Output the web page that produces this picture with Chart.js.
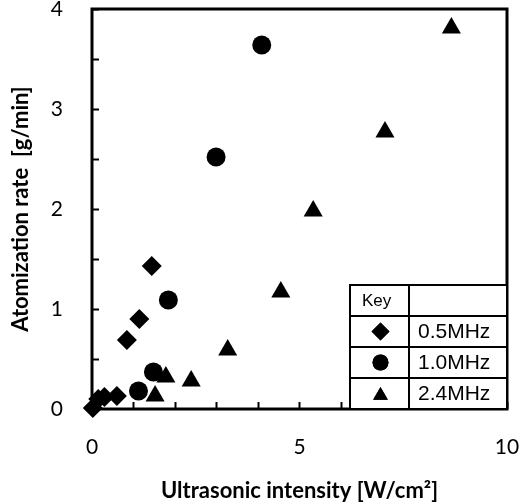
<!DOCTYPE html>
<html>
<head>
<meta charset="utf-8">
<script src="https://cdn.jsdelivr.net/npm/chart.js@4.4.1/dist/chart.umd.min.js"></script>
<style>
  html, body { margin: 0; padding: 0; background: #fff; }
</style>
</head>
<body>
<canvas id="chart" width="526" height="504"></canvas>
<script>
// values
const seriesNames = ['0.5MHz', '1.0MHz', '2.4MHz'];
const markerStyles = ['rectRot', 'circle', 'triangle'];

const x05 = [0.02, 0.15, 0.30, 0.60, 0.84, 1.14, 1.44];
const y05 = [0.01, 0.10, 0.12, 0.13, 0.69, 0.90, 1.43];

const x10 = [1.12, 1.48, 1.84, 2.99, 4.09];
const y10 = [0.18, 0.37, 1.09, 2.52, 3.64];

const x24 = [1.52, 1.78, 2.39, 3.27, 4.55, 5.33, 7.06, 8.66];
const y24 = [0.13, 0.32, 0.28, 0.59, 1.17, 1.98, 2.77, 3.81];

const xTickLabels = [0, 5, 10];
const yTickLabels = [0, 1, 2, 3, 4];

const toPoints = (xs, ys) => xs.map((x, i) => ({ x: x, y: ys[i] }));
const pointSizes = [10, 9.5, 11];

const frame = {
    id: 'frame',
    beforeDatasetsDraw(chart) {
        const { ctx, chartArea: a } = chart;
        ctx.save();
        ctx.strokeStyle = '#000';
        ctx.lineWidth = 3;
        ctx.strokeRect(a.left, a.top, a.right - a.left, a.bottom - a.top);
        ctx.restore();
    }
};

// the "Key" table in the lower right corner
const keyTable = {
    id: 'keyTable',
    afterDatasetsDraw(chart) {
        const { ctx, chartArea: a } = chart;
        const rowH = 31, w = 157, col = 59;
        const right = a.right, bottom = a.bottom;
        const left = right - w, top = bottom - rowH * 4;
        ctx.save();
        ctx.fillStyle = '#fff';
        ctx.fillRect(left, top, w, rowH * 4);
        ctx.strokeStyle = '#000';
        ctx.lineWidth = 2;
        ctx.strokeRect(left, top, w, rowH * 4);
        ctx.beginPath();
        for (let i = 1; i < 4; i++) {
            ctx.moveTo(left, top + rowH * i);
            ctx.lineTo(right, top + rowH * i);
        }
        ctx.moveTo(left + col, top);
        ctx.lineTo(left + col, bottom);
        ctx.stroke();

        ctx.fillStyle = '#000';
        ctx.textBaseline = 'middle';
        ctx.textAlign = 'left';
        ctx.font = '17px "Liberation Sans", Arial, sans-serif';
        ctx.fillText('Key', left + 12, top + rowH / 2 + 1);
        ctx.font = '21px "Liberation Sans", Arial, sans-serif';
        const legendSizes = [9, 8, 8.5];
        seriesNames.forEach((name, i) => {
            const cy = top + rowH * (i + 1.5);
            ctx.fillText(name, left + col + 9, cy + 1);
            Chart.helpers.drawPoint(ctx, {
                pointStyle: markerStyles[i],
                radius: legendSizes[i],
                rotation: 0,
                borderWidth: 0
            }, left + col / 2 + 1, cy + (i === 2 ? 2 : 0));
            ctx.fill();
        });
        ctx.restore();
    }
};

const noPad = s => { s.paddingTop = 0; s.paddingBottom = 0; s.paddingLeft = 0; s.paddingRight = 0; };

const tickFont = { family: 'Lato', size: 21 };
const titleFont = { family: 'Lato', size: 22, weight: 'bold' };

new Chart(document.getElementById('chart'), {
    type: 'scatter',
    data: {
        datasets: [
            { label: seriesNames[0], data: toPoints(x05, y05) },
            { label: seriesNames[1], data: toPoints(x10, y10) },
            { label: seriesNames[2], data: toPoints(x24, y24) }
        ].map((ds, i) => ({
            ...ds,
            pointStyle: markerStyles[i],
            pointRadius: pointSizes[i],
            pointHoverRadius: pointSizes[i],
            backgroundColor: '#000',
            borderColor: '#000',
            borderWidth: 0,
            clip: false
        }))
    },
    plugins: [frame, keyTable],
    options: {
        responsive: false,
        animation: false,
        events: [],
        layout: { autoPadding: false, padding: { top: 9, right: 19, left: 0, bottom: 0 } },
        plugins: {
            legend: { display: false },
            tooltip: { enabled: false }
        },
        scales: {
            x: {
                type: 'linear',
                min: 0,
                max: 10,
                afterFit: s => { s.height = 95; noPad(s); },
                border: { display: false },
                grid: { drawOnChartArea: false, tickLength: -7, tickWidth: 2, tickColor: '#000' },
                ticks: {
                    stepSize: 1,
                    autoSkip: false,
                    maxRotation: 0,
                    padding: 33,
                    color: '#000',
                    font: tickFont,
                    callback: v => xTickLabels.includes(v) ? String(v) : ''
                },
                title: {
                    display: true,
                    text: 'Ultrasonic intensity [W/cm\u00b2]',
                    color: '#000',
                    font: titleFont,
                    padding: { top: 0, bottom: 0 }
                }
            },
            y: {
                type: 'linear',
                min: 0,
                max: 4,
                afterFit: s => { s.width = 92; noPad(s); },
                border: { display: false },
                grid: { drawOnChartArea: false, tickLength: -7, tickWidth: 2, tickColor: '#000' },
                ticks: {
                    stepSize: 0.5,
                    autoSkip: false,
                    padding: 36,
                    color: '#000',
                    font: tickFont,
                    callback: v => yTickLabels.includes(v) ? String(v) : ''
                },
                title: {
                    display: true,
                    text: 'Atomization rate  [g/min]',
                    color: '#000',
                    font: titleFont,
                    padding: { top: 8, bottom: 0 }
                }
            }
        }
    }
});
</script>
</body>
</html>
